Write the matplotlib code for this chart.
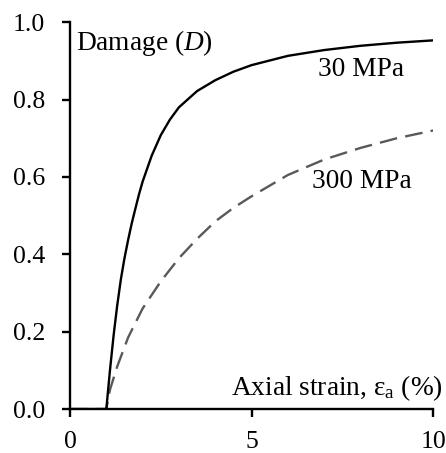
import matplotlib.pyplot as plt
from matplotlib import rcParams

rcParams["font.family"] = "Liberation Serif"
rcParams["font.size"] = 18.5
rcParams["mathtext.fontset"] = "custom"
rcParams["mathtext.rm"] = "Liberation Serif"
rcParams["mathtext.it"] = "Liberation Serif:italic"

# axial strain (%) and damage D
strain_30 = [0.0, 1.0, 1.1, 1.2, 1.3, 1.4, 1.5, 1.6, 1.7, 1.8, 1.9, 2.0,
             2.25, 2.5, 2.75, 3.0, 3.5, 4.0, 4.5, 5.0, 6.0, 7.0, 8.0, 9.0, 10.0]
damage_30 = [0.0, 0.0, 0.10, 0.19, 0.268, 0.335, 0.39, 0.437, 0.48, 0.518,
             0.555, 0.588, 0.655, 0.708, 0.748, 0.78, 0.822, 0.850, 0.872,
             0.889, 0.913, 0.928, 0.939, 0.947, 0.953]

strain_300 = [0.0, 1.0, 1.1, 1.3, 1.6, 2.0, 2.5, 3.0, 3.5, 4.0, 4.5, 5.0,
              6.0, 7.0, 8.0, 9.0, 10.0]
damage_300 = [0.0, 0.0, 0.05, 0.11, 0.185, 0.26, 0.33, 0.39, 0.44, 0.485,
              0.52, 0.55, 0.605, 0.645, 0.675, 0.70, 0.72]

x_ticks = [0, 5, 10]
y_ticks = [0.0, 0.2, 0.4, 0.6, 0.8, 1.0]

fig = plt.figure(figsize=(4.46, 4.53), dpi=100)
ax = fig.add_axes([0.157, 0.097, 0.814, 0.854])

ax.plot(strain_300, damage_300, color="#595959", lw=1.7, dashes=(7.5, 3.5))
ax.plot(strain_30, damage_30, color="black", lw=1.7)

ax.set_xlim(0, 10)
ax.set_ylim(0, 1)
ax.set_xticks(x_ticks)
ax.set_yticks(y_ticks)
ax.set_yticklabels([f"{v:.1f}" for v in y_ticks])

for side in ["top", "right"]:
    ax.spines[side].set_visible(False)
for side in ["left", "bottom"]:
    ax.spines[side].set_linewidth(1.7)
ax.tick_params(direction="out", length=6, width=1.7)
ax.tick_params(axis="x", pad=10)
ax.tick_params(axis="y", pad=12)

label_size = 19.7
ax.text(0.17, 0.928, r"Damage ($D$)", va="baseline", size=label_size)
ax.text(6.83, 0.86, "30 MPa", va="baseline", size=label_size)
ax.text(6.66, 0.571, "300 MPa", va="baseline", size=label_size)
ax.text(10.27, 0.036, r"Axial strain, ε$_\mathrm{a}$ (%)", va="baseline",
        ha="right", clip_on=False, size=label_size)

fig.savefig("out.png", dpi=100)
